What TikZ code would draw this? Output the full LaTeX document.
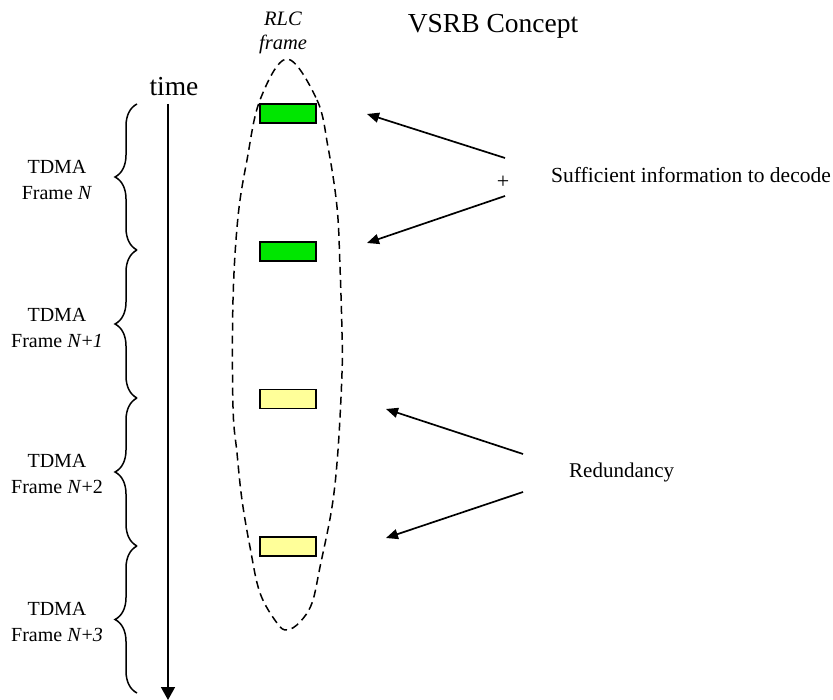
\documentclass[tikz,border=0pt]{standalone}
\usepackage{fontspec}
\setmainfont{Liberation Serif}
\usetikzlibrary{arrows.meta,decorations.pathreplacing}
\definecolor{slotgreen}{RGB}{0,230,0}
\definecolor{slotyellow}{RGB}{255,255,153}
\tikzset{
  lbl/.style={inner sep=0pt, font=\fontsize{20}{26}\selectfont, align=center},
  big/.style={inner sep=0pt, font=\fontsize{27.5}{30}\selectfont},
  slot/.style={draw, line width=1.5pt, minimum width=56pt, minimum height=19pt, inner sep=0pt},
  ptr/.style={line width=1.7pt, -{Triangle[length=12pt,width=10pt]}},
  framebrace/.style={decorate, decoration={brace, amplitude=22pt}, line width=1.5pt},
  rlcline/.style={line width=1.5pt, dash pattern=on 8pt off 5pt}
}
\begin{document}
\begin{tikzpicture}[x=1pt,y=-1pt]
\useasboundingbox (0,0) rectangle (833,700);

% title and labels
\node[big, anchor=base] (title) at (493,33) {VSRB Concept};
\node[big, anchor=base] (timelbl) at (174,96) {time};
\node[lbl, font=\fontsize{20.5}{24}\selectfont\itshape] (rlc) at (283,33) {RLC\\frame};

% time axis
\coordinate (ttop) at (168,104);
\coordinate (tbot) at (168,700);
\draw[line width=1.6pt, -{Triangle[length=13pt,width=14pt]}] (ttop) -- (tbot);

% braces
\coordinate (b0) at (137,104);
\coordinate (b1) at (137,250);
\coordinate (b2) at (137,398);
\coordinate (b3) at (137,546);
\coordinate (b4) at (137,693);
\draw[framebrace] (b1) -- (b0);
\draw[framebrace] (b2) -- (b1);
\draw[framebrace] (b3) -- (b2);
\draw[framebrace] (b4) -- (b3);

\node[lbl] (fN) at (57,180) {TDMA\\Frame \textit{N}};
\node[lbl] (fN1) at (57,328) {TDMA\\Frame \textit{N}+\textit{1}};
\node[lbl] (fN2) at (57,474) {TDMA\\Frame \textit{N}+2};
\node[lbl] (fN3) at (57,622) {TDMA\\Frame \textit{N}+\textit{3}};

% RLC frame outline
\draw[rlcline] plot[smooth cycle, tension=0.6] coordinates {
  (287,59) (317,100) (328,147) (337,207) (340,267) (342,333) (342,373)
  (338,450) (332,507) (320,567) (312,603) (300,622) (287,630)
  (277,623) (260,593) (250,547) (242,500) (237,453) (233,407)
  (233,300) (238,217) (247,160) (260,100)};

% slots
\node[slot, fill=slotgreen] (g1) at (288,113.5) {};
\node[slot, fill=slotgreen] (g2) at (288,251.5) {};
\node[slot, fill=slotyellow] (y1) at (288,399) {};
\node[slot, fill=slotyellow] (y2) at (288,546.5) {};

% sufficient information arrows
\coordinate (s1) at (505,158);
\coordinate (s1e) at (367,114);
\coordinate (s2) at (505,196);
\coordinate (s2e) at (367,243);
\draw[ptr] (s1) -- (s1e);
\draw[ptr] (s2) -- (s2e);
\node[inner sep=0pt, font=\fontsize{22}{24}\selectfont] (plus) at (503,182) {+};
\node[lbl, font=\fontsize{21.5}{26}\selectfont, anchor=base west] (suff) at (551,183) {Sufficient information to decode};

% redundancy arrows
\coordinate (r1) at (523,454);
\coordinate (r1e) at (386,409);
\coordinate (r2) at (523,492);
\coordinate (r2e) at (386,538);
\draw[ptr] (r1) -- (r1e);
\draw[ptr] (r2) -- (r2e);
\node[lbl, font=\fontsize{21}{26}\selectfont, anchor=base west] (red) at (569,478) {Redundancy};
\end{tikzpicture}
\end{document}
